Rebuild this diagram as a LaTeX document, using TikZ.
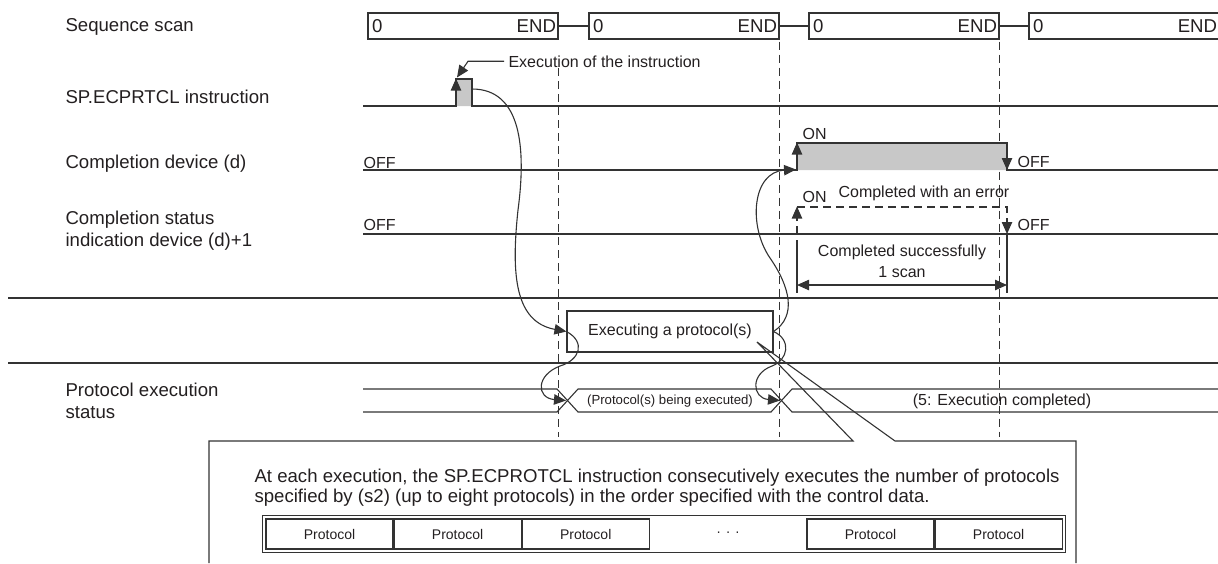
\documentclass[tikz,border=0pt]{standalone}
\usepackage{fontspec}
\setmainfont{Liberation Sans}
\usetikzlibrary{arrows.meta,positioning,calc,fit}
\definecolor{encre}{HTML}{231F20}
\definecolor{trace}{HTML}{333333}
\definecolor{grisimpulsion}{HTML}{C8C8C8}

\begin{document}
\begin{tikzpicture}[x=0.5pt, y=-0.5pt, line width=0.55pt, color=trace, text=encre,
  lbl/.style={font=\fontsize{9.3}{11}\selectfont, inner sep=0pt},
  txt/.style={font=\fontsize{8}{10.5}\selectfont, inner sep=0pt},
  buslbl/.style={font=\fontsize{6.6}{8}\selectfont, inner sep=0pt},
  scanbox/.style={draw, minimum width=95pt, minimum height=13pt, inner sep=0pt},
  cell/.style={draw, minimum width=63.5pt, minimum height=15pt, inner sep=0pt, font=\fontsize{7}{8}\selectfont},
  guide/.style={dash pattern=on 4pt off 2.5pt},
  sepline/.style={line width=1.3pt},
  fleche/.style={-{Triangle[length=6pt,width=5.2pt]}},
  dbl/.style={{Triangle[length=6pt,width=5.2pt]}-{Triangle[length=6pt,width=5.2pt]}}
]
\useasboundingbox (0,0) rectangle (1218,563);

\node[lbl, anchor=base west] (lscan) at (65,31) {Sequence scan};
\node[lbl, anchor=base west] (linst) at (65,103) {SP.ECPRTCL instruction};
\node[lbl, anchor=base west] (ldone) at (65,168) {Completion device (d)};
\node[lbl, anchor=west, align=left] (lstat) at (65,231) {Completion status\\indication device (d)+1};
\node[lbl, anchor=west, align=left] (lprot) at (65,401) {Protocol execution\\status};

\foreach \n/\x in {1/463,2/684,3/904,4/1124}{
  \node[scanbox] (s\n) at (\x,26) {};
  \node[lbl, anchor=west, xshift=2pt] at (s\n.west) {0};
  \node[lbl, anchor=east, xshift=-1pt] at (s\n.east) {END};
}
\foreach \a/\b in {1/2,2/3,3/4} \draw (s\a.east) -- (s\b.west);

\coordinate (hautG) at (0,68);
\coordinate (bas) at (0,437);
\draw[guide] (s1.south east |- hautG) -- (s1.south east |- bas);
\draw[guide] ([yshift=-1pt]s2.south east) -- (s2.south east |- bas);
\draw[guide] ([yshift=-1pt]s3.south east) -- (s3.south east |- bas);

\draw[fill=grisimpulsion] (363,106) -| (456,79) -| (472,106) -- (1218,106);
\draw[fleche] (456,94) -- (456,78.5);
\coordinate (pls) at (472,89);
\node[txt, anchor=base west, inner sep=2pt] (exe) at (504,67) {Execution of the instruction};
\draw[fleche] (exe.west) -- ++(-36,0) -- (457,77.5);

\draw[fill=grisimpulsion] (363,170) -| (797,143) -| (1007,170) -- (1218,170);
\draw[fleche] (797,160) -- (797,142.5);
\draw[fleche] (1007,150) -- (1007,170);
\node[txt, anchor=base west] (off1) at (363,168) {OFF};
\node[txt, anchor=base west] (on1) at (802,139) {ON};
\node[txt, anchor=base west] (off2) at (1017,167) {OFF};

\draw (363,234) -- (1218,234);
\draw[guide, fleche] (797,234) -- (797,206.5);
\draw[guide, fleche] (797,207) -- (1007,207) -- (1007,234);
\node[txt, anchor=base west] (off3) at (363,230) {OFF};
\node[txt, anchor=base west] (on2) at (802,202) {ON};
\node[txt, anchor=base west] (err) at (838,197) {Completed with an error};
\node[txt, anchor=base west] (off4) at (1017,230) {OFF};

\draw (797,240) -- (797,293);
\draw (1007,234) -- (1007,293);
\draw[dbl] (797,285) -- (1007,285);
\node[txt, align=center] (okscan) at (902,261.5) {Completed successfully\\1 scan};

\draw[sepline] (8,298) -- (1218,298);
\draw[sepline] (8,363) -- (1218,363);

\node[draw, txt, minimum width=103pt, minimum height=20.5pt] (exec) at (670,331.5) {Executing a protocol(s)};

\draw (363,389) -- (557,389) -- (578,412) -- (771,412) -- (792,389) -- (1218,389);
\draw (363,412) -- (557,412) -- (578,389) -- (771,389) -- (792,412) -- (1218,412);
\node[buslbl] (busA) at (670,401) {(Protocol(s) being executed)};
\node[txt] (busB) at (1002,401) {(5: Execution completed)};
\coordinate (xA) at (566,400.5);
\coordinate (xB) at (780,400.5);

\draw[fleche] (pls) .. controls (522,89) and (526,150) .. (518,210) .. controls (511,275) and (515,322) .. (exec.west);
\draw[fleche] (exec.west) .. controls (586,342) and (580,360) .. (560,366) .. controls (536,375) and (536,398) .. (xA);
\draw[fleche] (exec.east) .. controls (792,340) and (788,360) .. (772,366) .. controls (750,374) and (752,398) .. (xB);
\draw[fleche] (exec.east) .. controls (797,316) and (790,287) .. (770,258) .. controls (748,226) and (752,172) .. (796,169.5);

\coordinate (pointe) at (757,342);
\draw (209,563) -- (209,441) -- (853,441) -- (pointe) -- (895,441) -- (1076,441) -- (1076,563);
\node[lbl, anchor=west, align=left, font=\fontsize{9.3}{10}\selectfont] (note) at (254,488) {At each execution, the SP.ECPROTCL instruction consecutively executes the number of protocols\\specified by (s2) (up to eight protocols) in the order specified with the control data.};

\node[cell] (p1) at (329.5,534) {Protocol};
\node[cell, right=0pt of p1] (p2) {Protocol};
\node[cell, right=0pt of p2] (p3) {Protocol};
\node[cell] (p4) at (870.5,534) {Protocol};
\node[cell, right=0pt of p4] (p5) {Protocol};
\node[cell, draw=none] (dots) at ($(p3.east)!0.5!(p4.west)$) {·\,\,·\,\,·};
\node[draw, inner sep=1.5pt, fit=(p1)(p5)] (tbl) {};
\end{tikzpicture}
\end{document}
